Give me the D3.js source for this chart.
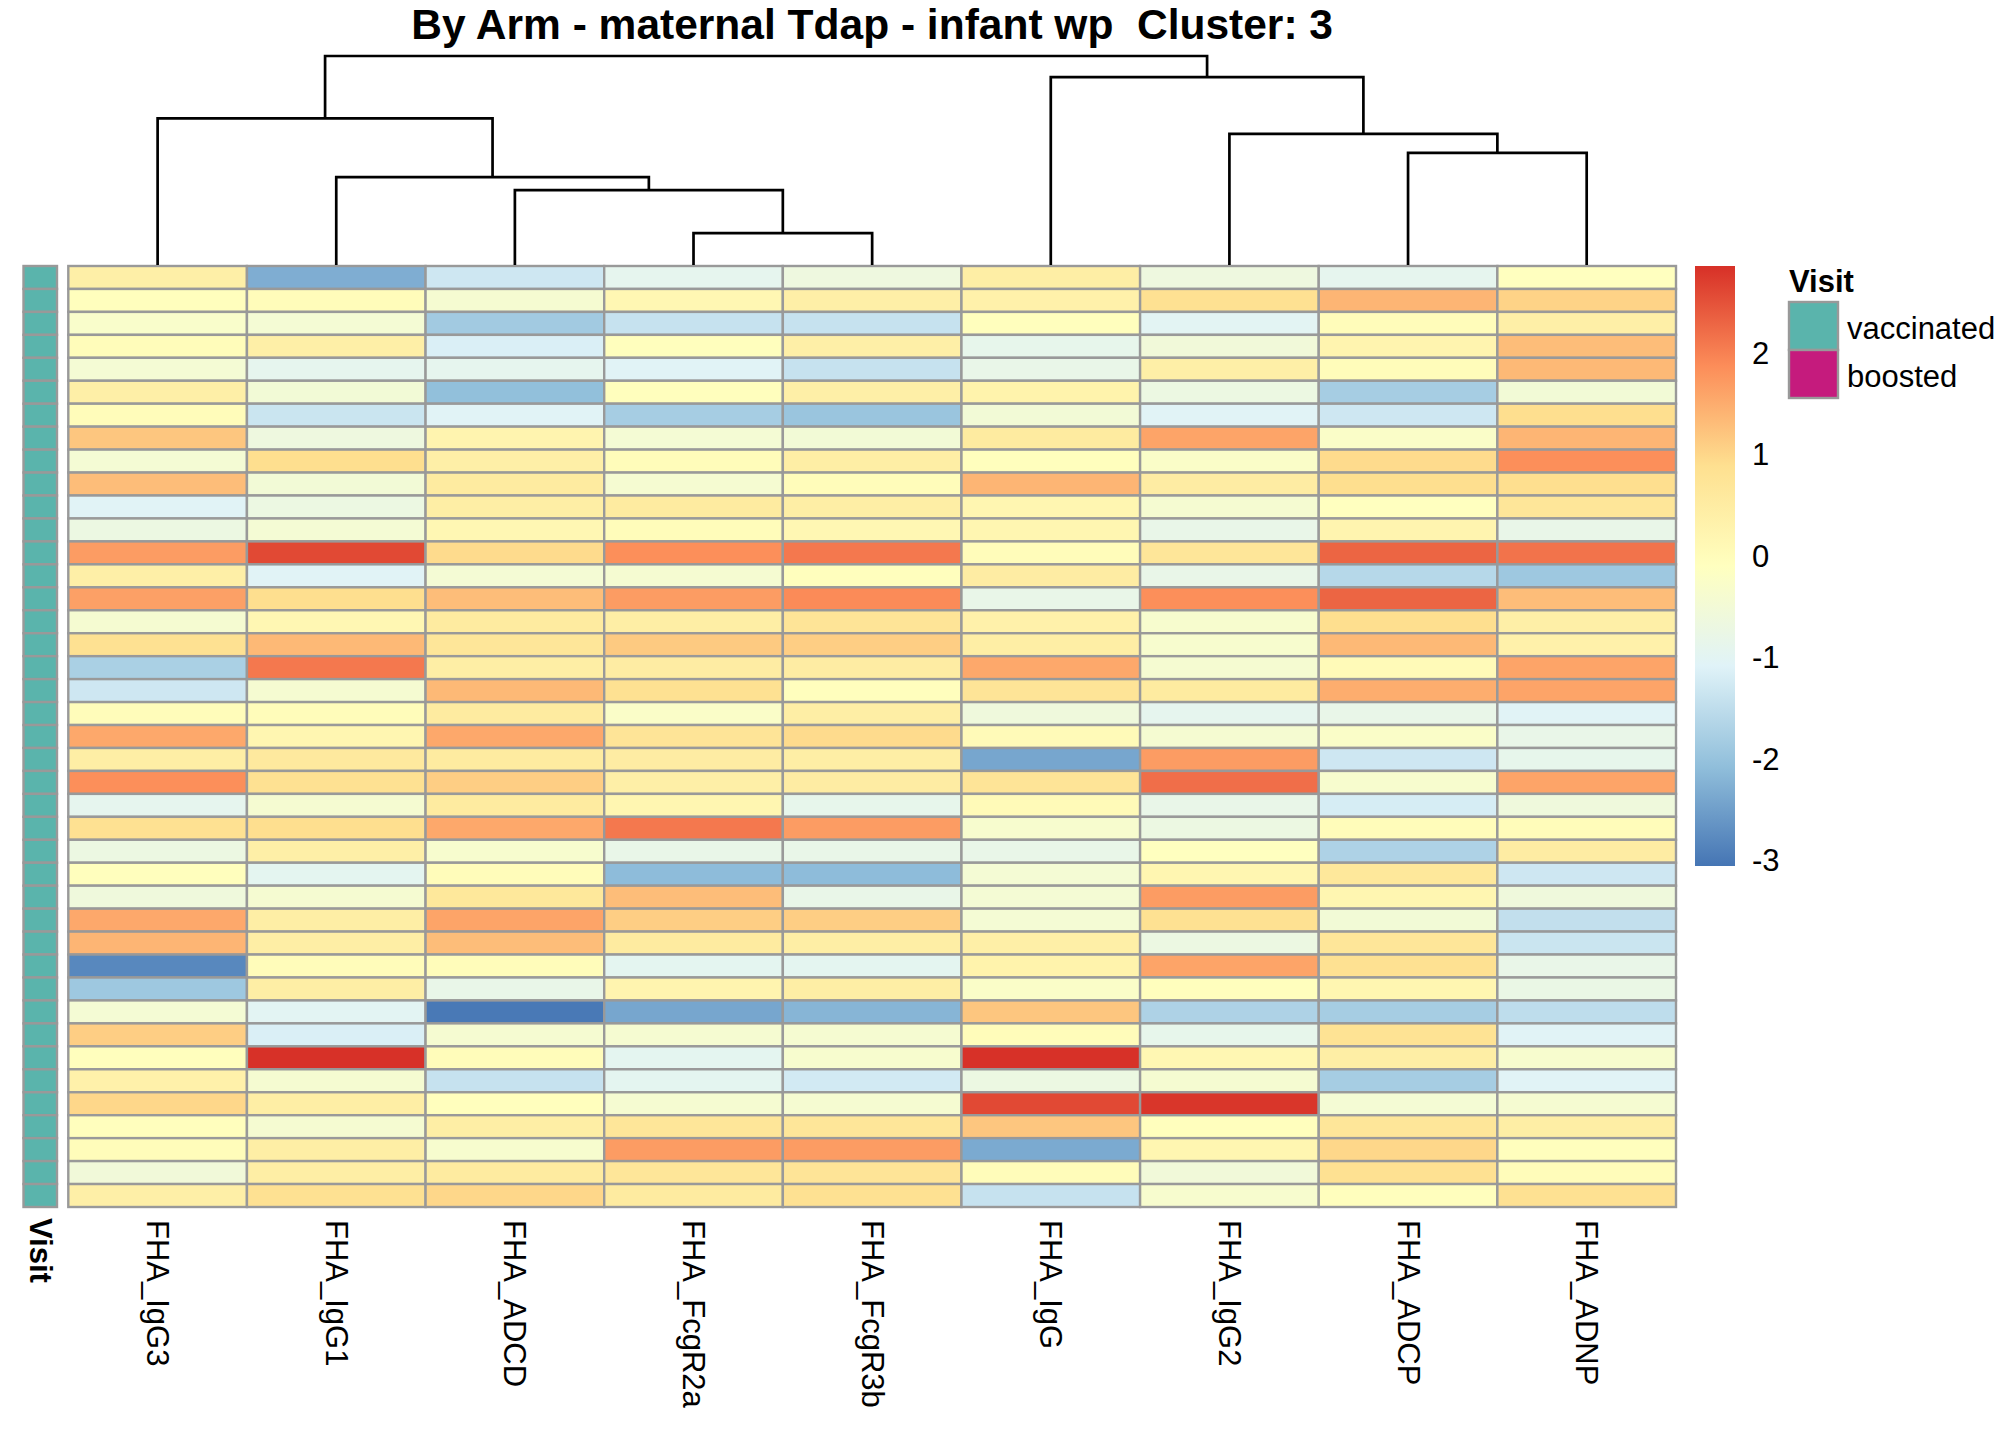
<!DOCTYPE html>
<html>
<head>
<meta charset="utf-8">
<script src="https://cdn.jsdelivr.net/npm/d3@7"></script>
<style>
  body { margin: 0; background: #fff; }
  text { font-family: "Liberation Sans", Arial, sans-serif; }
</style>
</head>
<body>
<div id="chart"></div>
<script>
// column order (after clustering) and values per column, one entry per sample row
var features = ["FHA_IgG3", "FHA_IgG1", "FHA_ADCD", "FHA_FcgR2a", "FHA_FcgR3b", "FHA_IgG", "FHA_IgG2", "FHA_ADCP", "FHA_ADNP"];

var igg3   = [0.4, -0.05, -0.3, 0.0, -0.45, 0.4, 0.0, 1.2, -0.45, 1.3, -1.05, -0.7, 1.7, 0.4, 1.65, -0.4, 0.85, -1.75, -1.3, 0.0, 1.55, 0.45, 1.85, -0.9, 0.85, -0.7, -0.05, -0.6, 1.55, 1.4, -2.8, -1.9, -0.45, 1.1, -0.05, 0.35, 1.0, -0.05, 0.0, -0.55, 0.4];
var igg1   = [-2.3, 0.0, -0.45, 0.4, -0.9, -0.5, -1.35, -0.65, 0.9, -0.5, -0.7, -0.45, 2.6, -1.05, 0.9, 0.15, 1.35, 2.1, -0.4, 0.0, 0.2, 0.6, 0.85, -0.4, 0.9, 0.4, -0.95, -0.4, 0.45, 0.45, 0.0, 0.45, -1.0, -1.15, 2.85, -0.4, 0.45, -0.4, 0.45, 0.45, 0.85];
var adcd   = [-1.3, -0.4, -1.85, -1.15, -0.9, -2.05, -1.05, 0.25, 0.4, 0.55, 0.45, 0.15, 0.95, -0.45, 1.3, 0.55, 0.7, 0.45, 1.35, 0.55, 1.55, 0.55, 1.1, 0.55, 1.55, -0.35, 0.0, 0.65, 1.6, 1.3, 0.0, -0.8, -3.0, -0.4, 0.0, -1.4, -0.05, 0.45, -0.35, 0.55, 1.0];
var fcgr2a = [-0.9, 0.15, -1.4, -0.05, -1.05, -0.05, -1.8, -0.45, 0.0, -0.4, 0.55, 0.0, 1.85, -0.4, 1.7, 0.45, 1.15, 0.5, 0.85, -0.25, 0.75, 0.5, 0.4, 0.2, 2.1, -0.8, -2.1, 1.3, 1.1, 0.55, -0.95, 0.25, -2.4, -0.4, -0.95, -0.95, -0.4, 0.7, 1.7, 0.7, 0.55];
var fcgr3b = [-0.65, 0.4, -1.4, 0.4, -1.4, 0.4, -1.95, -0.5, 0.45, 0.0, 0.45, 0.15, 2.1, -0.05, 1.9, 0.75, 1.1, 0.5, -0.05, 0.45, 0.95, 0.45, 0.5, -0.85, 1.7, -0.8, -2.1, -0.8, 1.1, 0.45, -0.95, 0.45, -2.2, -0.4, -0.35, -1.25, -0.4, 0.7, 1.7, 0.75, 0.85];
var igg    = [0.45, 0.35, -0.05, -0.85, -0.8, 0.3, -0.5, 0.55, -0.05, 1.4, 0.2, 0.2, 0.0, 0.5, -0.8, 0.35, 0.45, 1.55, 0.75, -0.6, 0.05, -2.4, 0.75, 0.05, -0.35, -0.8, -0.45, -0.45, -0.45, 0.4, 0.3, -0.25, 1.2, 0.0, 2.85, -0.7, 2.6, 1.2, -2.35, 0.0, -1.4];
var igg2   = [-0.65, 0.85, -1.0, -0.55, 0.4, -0.7, -1.05, 1.6, -0.25, 0.5, -0.4, -0.8, 0.7, -0.8, 1.85, -0.35, -0.35, -0.4, 0.55, -0.9, -0.4, 1.7, 2.2, -0.8, -0.7, -0.1, 0.2, 1.7, 0.85, -0.7, 1.6, -0.05, -1.7, -0.85, 0.15, -0.4, 2.8, -0.05, 0.2, -0.55, -0.35];
var adcp   = [-0.9, 1.4, 0.0, 0.25, 0.0, -1.8, -1.3, -0.25, 0.95, 0.9, -0.1, 0.25, 2.3, -1.6, 2.3, 0.9, 1.35, 0.05, 1.5, -0.8, -0.25, -1.3, -0.35, -1.2, 0.0, -1.7, 0.65, 0.2, -0.5, 0.7, 0.85, 0.2, -1.8, 0.8, 0.45, -1.8, -0.45, 0.7, 1.0, 0.85, -0.05];
var adnp   = [-0.1, 1.05, 0.4, 1.3, 1.35, -0.5, 0.9, 1.4, 1.85, 0.9, 0.7, -0.8, 2.15, -1.9, 1.3, 0.4, 0.35, 1.6, 1.6, -1.05, -0.8, -0.85, 1.6, -0.6, 0.0, 0.5, -1.3, -0.6, -1.45, -1.35, -0.8, -0.75, -1.5, -1.05, -0.35, -1.05, -0.4, 0.45, -0.05, 0.0, 0.85];

var visit = ["vaccinated", "vaccinated", "vaccinated", "vaccinated", "vaccinated", "vaccinated", "vaccinated",
  "vaccinated", "vaccinated", "vaccinated", "vaccinated", "vaccinated", "vaccinated", "vaccinated",
  "vaccinated", "vaccinated", "vaccinated", "vaccinated", "vaccinated", "vaccinated", "vaccinated",
  "vaccinated", "vaccinated", "vaccinated", "vaccinated", "vaccinated", "vaccinated", "vaccinated",
  "vaccinated", "vaccinated", "vaccinated", "vaccinated", "vaccinated", "vaccinated", "vaccinated",
  "vaccinated", "vaccinated", "vaccinated", "vaccinated", "vaccinated", "vaccinated"];
var visitLevels = ["vaccinated", "boosted"];
var visitColors = ["#5AB4AC", "#C51B7D"];

// column dendrogram merges: [left, right, height]; "mN" refers to the N-th merge
var merges = [
  ["FHA_FcgR2a", "FHA_FcgR3b", 32],
  ["FHA_ADCD", "m1", 75.3],
  ["FHA_IgG1", "m2", 88.3],
  ["FHA_ADCP", "FHA_ADNP", 112.7],
  ["FHA_IgG2", "m4", 131.7],
  ["FHA_IgG3", "m3", 147.3],
  ["FHA_IgG", "m5", 188.7],
  ["m6", "m7", 210]
];

var legendTicks = [-3, -2, -1, 0, 1, 2];
var legendRange = [-3.05, 2.86];
var paletteColors = ["#4575B4", "#91BFDB", "#E0F3F8", "#FFFFBF", "#FEE090", "#FC8D59", "#D73027"];
var titleText = "By Arm - maternal Tdap - infant wp  Cluster: 3";

var columns = [igg3, igg1, adcd, fcgr2a, fcgr3b, igg, igg2, adcp, adnp];
var cells = [];
columns.forEach(function(col, j) {
  col.forEach(function(v, i) {
    cells.push({feature: features[j], row: i, value: v});
  });
});

var W = 2016, H = 1440;
var heat = {left: 68.3, right: 1676, top: 266, bottom: 1207};

var svg = d3.select("#chart").append("svg")
  .attr("width", W)
  .attr("height", H);
svg.append("rect").attr("width", W).attr("height", H).attr("fill", "#fff");

var x = d3.scaleBand().domain(features).range([heat.left, heat.right]);
var y = d3.scaleBand().domain(d3.range(visit.length)).range([heat.top, heat.bottom]);

var stops = paletteColors.map(function(c, i) {
  return legendRange[0] + (legendRange[1] - legendRange[0]) * i / (paletteColors.length - 1);
});
var color = d3.scaleLinear().domain(stops).range(paletteColors)
  .interpolate(d3.interpolateRgb).clamp(true);

// title
svg.append("text")
  .attr("x", (heat.left + heat.right) / 2)
  .attr("y", 38.5)
  .attr("text-anchor", "middle")
  .attr("font-size", 42.5)
  .attr("font-weight", "bold")
  .style("white-space", "pre")
  .attr("xml:space", "preserve")
  .text(titleText);

// heatmap cells
svg.append("g").selectAll("rect")
  .data(cells).enter()
  .append("rect")
  .attr("x", function(d) { return x(d.feature); })
  .attr("y", function(d) { return y(d.row); })
  .attr("width", x.bandwidth())
  .attr("height", y.bandwidth())
  .attr("fill", function(d) { return color(d.value); })
  .attr("stroke", "#999999")
  .attr("stroke-width", 2.4);

// annotation column
var annX = 23.5, annW = 33.5;
var visitColor = d3.scaleOrdinal().domain(visitLevels).range(visitColors);
svg.append("g").selectAll("rect")
  .data(visit).enter()
  .append("rect")
  .attr("x", annX)
  .attr("y", function(d, i) { return y(i); })
  .attr("width", annW)
  .attr("height", y.bandwidth())
  .attr("fill", function(d) { return visitColor(d); })
  .attr("stroke", "#999999")
  .attr("stroke-width", 2.4);

svg.append("text")
  .attr("transform", "translate(" + (annX + annW / 2) + ",1218) rotate(90)")
  .attr("dominant-baseline", "central")
  .attr("font-size", 31)
  .attr("font-weight", "bold")
  .text("Visit");

// column labels
svg.append("g").selectAll("text")
  .data(features).enter()
  .append("text")
  .attr("transform", function(d) {
    return "translate(" + (x(d) + x.bandwidth() / 2) + ",1220) rotate(90)";
  })
  .attr("dominant-baseline", "central")
  .attr("font-size", 31)
  .text(function(d) { return d; });

// dendrogram
var treeY = d3.scaleLinear().domain([0, d3.max(merges, function(m) { return m[2]; })]).range([heat.top - 1, 56]);
var nodes = {};
features.forEach(function(f) { nodes[f] = {x: x(f) + x.bandwidth() / 2, h: 0}; });
var dendro = svg.append("g")
  .attr("fill", "none")
  .attr("stroke", "#000")
  .attr("stroke-width", 2.7);
merges.forEach(function(m, i) {
  var a = nodes[m[0]], b = nodes[m[1]];
  dendro.append("path")
    .attr("d", "M" + a.x + "," + treeY(a.h) + "V" + treeY(m[2]) + "H" + b.x + "V" + treeY(b.h));
  nodes["m" + (i + 1)] = {x: (a.x + b.x) / 2, h: m[2]};
});

// colour legend
var lg = {x: 1695, w: 40, top: 266, bottom: 866};
var ly = d3.scaleLinear().domain(legendRange).range([lg.bottom, lg.top]);
var grad = svg.append("defs").append("linearGradient")
  .attr("id", "heatgrad")
  .attr("x1", 0).attr("y1", 1).attr("x2", 0).attr("y2", 0);
stops.forEach(function(s, i) {
  grad.append("stop")
    .attr("offset", (s - legendRange[0]) / (legendRange[1] - legendRange[0]))
    .attr("stop-color", paletteColors[i]);
});
svg.append("rect")
  .attr("x", lg.x)
  .attr("y", lg.top)
  .attr("width", lg.w)
  .attr("height", lg.bottom - lg.top)
  .attr("fill", "url(#heatgrad)");
svg.append("g").selectAll("text")
  .data(legendTicks).enter()
  .append("text")
  .attr("x", 1752)
  .attr("y", function(d) { return ly(d); })
  .attr("dominant-baseline", "central")
  .attr("font-size", 31)
  .text(function(d) { return d; });

// Visit legend
svg.append("text")
  .attr("x", 1789)
  .attr("y", 292)
  .attr("font-size", 31)
  .attr("font-weight", "bold")
  .text("Visit");
var box = {x: 1789, y: 302, w: 49, h: 48};
var vl = svg.append("g").selectAll("g")
  .data(visitLevels).enter()
  .append("g");
vl.append("rect")
  .attr("x", box.x)
  .attr("y", function(d, i) { return box.y + i * box.h; })
  .attr("width", box.w)
  .attr("height", box.h)
  .attr("fill", function(d) { return visitColor(d); })
  .attr("stroke", "#999999")
  .attr("stroke-width", 2.4);
vl.append("text")
  .attr("x", 1847)
  .attr("y", function(d, i) { return box.y + i * box.h + box.h / 2 + 2.5; })
  .attr("dominant-baseline", "central")
  .attr("font-size", 31)
  .text(function(d) { return d; });
</script>
</body>
</html>
